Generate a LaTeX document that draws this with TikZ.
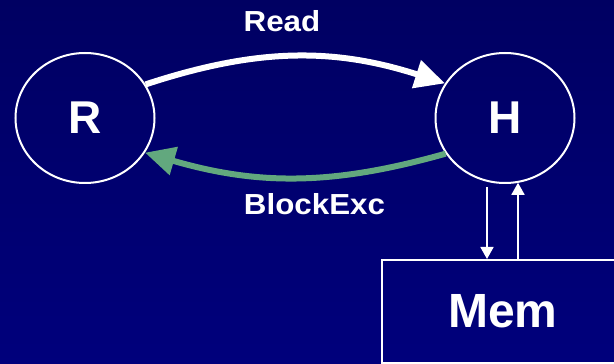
\documentclass[tikz,border=0pt]{standalone}
\usepackage{fontspec}
\setmainfont{Liberation Sans}
\usetikzlibrary{arrows.meta,shapes.geometric,calc}
\definecolor{bgtop}{RGB}{0,0,98}
\definecolor{bgbot}{RGB}{0,0,124}
\definecolor{blockgreen}{RGB}{98,168,126}
\newcommand{\widetext}[1]{\scalebox{1.08}[1]{#1}}
\tikzset{
  statenode/.style={ellipse, draw=white, line width=2pt, minimum width=139pt,
    minimum height=130pt, inner sep=0pt, text=white,
    font=\fontsize{46}{48}\selectfont\bfseries},
  memnode/.style={rectangle, draw=white, line width=2pt, minimum width=243pt,
    minimum height=103pt, inner sep=0pt, text=white,
    font=\fontsize{48}{50}\selectfont\bfseries},
  msglabel/.style={text=white, inner sep=0pt, font=\fontsize{29}{30}\selectfont\bfseries},
  bigarrow/.style={line width=6pt, -{Triangle[length=30pt,width=28pt]}},
  smallarrow/.style={line width=1.8pt, draw=white, -{Triangle[length=12pt,width=13pt]}}
}
\begin{document}
\begin{tikzpicture}[x=1pt,y=1pt]
  \useasboundingbox (0,0) rectangle (614,364);
  \clip (0,0) rectangle (614,364);
  \shade[top color=bgtop, bottom color=bgbot] (0,0) rectangle (614,364);

  \node[statenode] (R) at (85,246) {R};
  \node[statenode] (H) at (505,246) {H};
  \node[memnode] (Mem) at (503,52.5) {Mem};

  \node[msglabel] (readlbl) at (282,342.6) {\widetext{Read}};
  \node[msglabel] (blocklbl) at (314.5,160.2) {\widetext{BlockExc}};

  \draw[bigarrow, draw=white] (R.29) to[bend left=18] (H.150);
  \draw[bigarrow, draw=blockgreen] (H.211) to[bend left=16] (R.330);

  \draw[smallarrow] ([xshift=-18pt,yshift=-3pt]H.south) -- ([xshift=-18pt]H.south |- Mem.north);
  \draw[smallarrow] ([xshift=13pt]H.south |- Mem.north) -- ([xshift=13pt,yshift=1.2pt]H.south);
\end{tikzpicture}
\end{document}
